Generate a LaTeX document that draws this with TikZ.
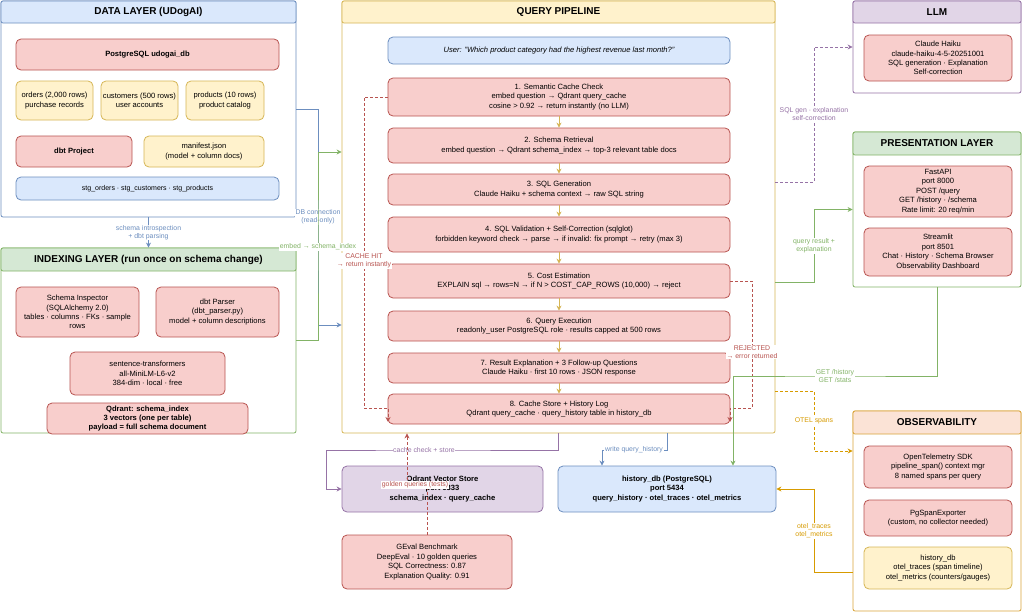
\documentclass[tikz,border=0pt]{standalone}
\usepackage{fontspec}
\setmainfont{Liberation Sans}
\usetikzlibrary{arrows.meta,calc}
\definecolor{bF}{HTML}{DAE8FC}\definecolor{bS}{HTML}{6C8EBF}
\definecolor{rF}{HTML}{F8CECC}\definecolor{rS}{HTML}{B85450}
\definecolor{yF}{HTML}{FFF2CC}\definecolor{yS}{HTML}{D6B656}
\definecolor{gF}{HTML}{D5E8D4}\definecolor{gS}{HTML}{82B366}
\definecolor{pF}{HTML}{E1D5E7}\definecolor{pS}{HTML}{9673A6}
\definecolor{oF}{HTML}{FBE3D6}\definecolor{oS}{HTML}{D9A43A}
\definecolor{oA}{HTML}{D79B00}
\tikzset{
  every node/.style={font=\fontsize{7.6}{9.4}\selectfont, align=center, inner sep=0pt},
  wh/.style 2 args={minimum width=#1pt, minimum height=#2pt},
  rbox/.style={draw=rS, fill=rF, rounded corners=5pt, line width=0.8pt},
  ybox/.style={draw=yS, fill=yF, rounded corners=5pt, line width=0.8pt},
  bbox/.style={draw=bS, fill=bF, rounded corners=5pt, line width=0.8pt},
  pbox/.style={draw=pS, fill=pF, rounded corners=5pt, line width=0.8pt},
  layer/.style={draw=#1, fill=white, rounded corners=2pt, line width=0.8pt},
  hdr/.style 2 args={draw=#1, fill=#2, rounded corners=2pt, line width=0.8pt, font=\bfseries\fontsize{10}{12}\selectfont},
  bt/.style={font=\bfseries\fontsize{7.6}{9.4}\selectfont},
  lbl/.style={fill=white, inner sep=0.6pt, font=\fontsize{6.9}{8.2}\selectfont},
  arr/.style={-{Stealth[length=5pt,width=5pt]}, line width=0.8pt},
  dsh/.style={dash pattern=on 2.5pt off 2.5pt},
}
\begin{document}
\begin{tikzpicture}[x=1pt,y=-1pt]
\useasboundingbox (0,0) rectangle (1024,613);

% ---------------- DATA LAYER
\node[layer=bS, wh={295}{216}] (dl) at (148.5,109) {};
\node[hdr={bS}{bF}, wh={295}{22}] (dlh) at (148.5,12) {DATA LAYER (UDogAI)};
\node[rbox, wh={263}{31}, bt] (pg) at (147.5,54.5) {PostgreSQL udogai\_db};
\node[ybox, wh={77}{39}] (ord) at (54.5,100.5) {orders (2,000 rows)\\purchase records};
\node[ybox, wh={77}{39}] (cus) at (139.5,100.5) {customers (500 rows)\\user accounts};
\node[ybox, wh={78}{39}] (prd) at (225,100.5) {products (10 rows)\\product catalog};
\node[rbox, wh={116}{31}, bt] (dbt) at (74,151.5) {dbt Project};
\node[ybox, wh={120}{31}] (man) at (204,151.5) {manifest.json\\(model + column docs)};
\node[bbox, wh={263}{23}, font=\fontsize{7}{8.4}\selectfont] (stg) at (147.5,188.5) {stg\_orders · stg\_customers · stg\_products};

% ---------------- INDEXING LAYER
\node[layer=gS, wh={295}{185}] (il) at (148.5,340.5) {};
\node[hdr={gS}{gF}, wh={295}{23}] (ilh) at (148.5,259.5) {INDEXING LAYER (run once on schema change)};
\node[rbox, wh={123}{50}] (si) at (77.5,312) {Schema Inspector\\(SQLAlchemy 2.0)\\tables · columns · FKs · sample\\rows};
\node[rbox, wh={123}{50}] (dp) at (217.5,312) {dbt Parser\\(dbt\_parser.py)\\model + column descriptions};
\node[rbox, wh={155}{43}] (st) at (147.5,373.5) {sentence-transformers\\all-MiniLM-L6-v2\\384-dim · local · free};
\node[rbox, wh={201}{31}, bt] (qsi) at (147.5,418.5) {Qdrant: schema\_index\\3 vectors (one per table)\\payload = full schema document};

% ---------------- QUERY PIPELINE
\node[layer=yS, wh={433}{432}] (qp) at (558.5,217) {};
\node[hdr={yS}{yF}, wh={433}{22}] (qph) at (558.5,12) {QUERY PIPELINE};
\node[bbox, wh={342}{27}, font=\itshape\fontsize{7.6}{9.4}\selectfont] (usr) at (559,50.5) {User: "Which product category had the highest revenue last month?"};
\node[rbox, wh={342}{38}] (s1) at (559,97) {1. Semantic Cache Check\\embed question → Qdrant query\_cache\\cosine > 0.92 → return instantly (no LLM)};
\node[rbox, wh={342}{35}] (s2) at (559,145.5) {2. Schema Retrieval\\embed question → Qdrant schema\_index → top-3 relevant table docs};
\node[rbox, wh={342}{31}] (s3) at (559,189.5) {3. SQL Generation\\Claude Haiku + schema context → raw SQL string};
\node[rbox, wh={342}{35}] (s4) at (559,234.5) {4. SQL Validation + Self-Correction (sqlglot)\\forbidden keyword check → parse → if invalid: fix prompt → retry (max 3)};
\node[rbox, wh={342}{34}] (s5) at (559,281) {5. Cost Estimation\\EXPLAIN sql → rows=N → if N > COST\_CAP\_ROWS (10,000) → reject};
\node[rbox, wh={342}{30}] (s6) at (559,326) {6. Query Execution\\readonly\_user PostgreSQL role · results capped at 500 rows};
\node[rbox, wh={342}{30}] (s7) at (559,368) {7. Result Explanation + 3 Follow-up Questions\\Claude Haiku · first 10 rows · JSON response};
\node[rbox, wh={342}{30}] (s8) at (559,409) {8. Cache Store + History Log\\Qdrant query\_cache · query\_history table in history\_db};

% ---------------- LLM
\node[layer=pS, wh={168}{92}] (llm) at (937,47) {};
\node[hdr={pS}{pF}, wh={168}{22}] (llmh) at (937,12) {LLM};
\node[rbox, wh={148}{46}] (hk) at (938,58) {Claude Haiku\\claude-haiku-4-5-20251001\\SQL generation · Explanation\\Self-correction};

% ---------------- PRESENTATION
\node[layer=gS, wh={168}{155}] (pres) at (937,209.5) {};
\node[hdr={gS}{gF}, wh={168}{23}] (presh) at (937,143.5) {PRESENTATION LAYER};
\node[rbox, wh={148}{51}] (fa) at (938,191.5) {FastAPI\\port 8000\\POST /query\\GET /history · /schema\\Rate limit: 20 req/min};
\node[rbox, wh={148}{48}] (sl) at (938,252) {Streamlit\\port 8501\\Chat · History · Schema Browser\\Observability Dashboard};

% ---------------- OBSERVABILITY
\node[layer=oS, wh={168}{200}] (obs) at (937,511) {};
\node[hdr={oS}{oF}, wh={168}{23}] (obsh) at (937,422.5) {OBSERVABILITY};
\node[rbox, wh={148}{42}] (ot) at (938,467) {OpenTelemetry SDK\\pipeline\_span() context mgr\\8 named spans per query};
\node[rbox, wh={148}{36}] (pgx) at (938,518) {PgSpanExporter\\(custom, no collector needed)};
\node[ybox, wh={148}{42}] (ho) at (938,568) {history\_db\\otel\_traces (span timeline)\\otel\_metrics (counters/gauges)};

% ---------------- BOTTOM STORES
\node[pbox, wh={201}{46}, bt] (qvs) at (442.5,489) {Qdrant Vector Store\\port 6333\\schema\_index · query\_cache};
\node[bbox, wh={218}{46}, bt] (hdb) at (667,489) {history\_db (PostgreSQL)\\port 5434\\query\_history · otel\_traces · otel\_metrics};
\node[rbox, wh={170}{54}] (ge) at (427,562) {GEval Benchmark\\DeepEval · 10 golden queries\\SQL Correctness: 0.87\\Explanation Quality: 0.91};

% ---------------- PIPELINE STEP ARROWS
\foreach \a/\b in {s1/s2,s2/s3,s3/s4,s4/s5,s5/s6,s6/s7,s7/s8}
  \draw[arr, yS] (\a) -- (\b);

% ---------------- CONNECTORS
\draw[arr, bS] (dl.east) -- (318,109) -- (318,217) node[lbl, text=bS] {DB connection\\(read-only)} -- (318,325) -- (qp.west |- 0,325);
\draw[arr, gS] (il.east) -- (318,340.5) -- (318,247) node[lbl, text=gS] {embed → schema\_index} -- (318,152) -- (qp.west |- 0,152);
\draw[arr, bS] (dl.south) -- node[lbl, text=bS] {schema introspection\\+ dbt parsing} (ilh.north);

\draw[arr, dsh, rS] (s1.west) -- (364,97) -- (364,261) node[lbl, text=rS] {CACHE HIT\\→ return instantly} -- (364,408) -- (388,408) -- (388,422);
\draw[arr, dsh, rS] (s5.east) -- (752,281) -- (752,352) node[lbl, text=rS] {REJECTED\\→ error returned} -- (752,408) -- (730,408) -- (730,422);

\draw[arr, dsh, pS] (qp.east |- 0,182) -- (814,182) -- (814,114) node[lbl, text=pS] {SQL gen · explanation\\self-correction} -- (814,47) -- (llm.west);
\draw[arr, gS] (qp.east |- 0,282) -- (814,282) -- (814,246) node[lbl, text=gS] {query result +\\explanation} -- (814,209.5) -- (pres.west);
\draw[arr, gS] (pres.south) -- (937,376) -- (835,376) node[lbl, text=gS] {GET /history\\GET /stats} -- (733,376) -- (hdb.north -| 733,0);
\draw[arr, dsh, oA] (qp.east |- 0,391) -- (814,391) -- (814,421) node[lbl, text=oA] {OTEL spans} -- (814,451) -- (obs.west |- 0,451);
\draw[arr, oA] (obs.west |- 0,572) -- (814,572) -- (814,531) node[lbl, text=oA] {otel\_traces\\otel\_metrics} -- (814,489) -- (hdb.east);

\draw[arr, pS] (qp.south -| 558,0) -- (558,450) -- (424,450) node[lbl, text=pS] {cache check + store} -- (326,450) -- (326,489) -- (qvs.west);
\draw[arr, bS] (qp.south -| 667,0) -- (667,450) -- (634,450) node[lbl, text=bS] {write query\_history} -- (602,450) -- (hdb.north -| 602,0);
\draw[arr, dsh, rS] (ge.north) -- (427,485) -- (407,485) -- (qp.south -| 407,0);
\node[lbl, text=rS] (gq) at (415,485) {golden queries (tests)};
\end{tikzpicture}
\end{document}
